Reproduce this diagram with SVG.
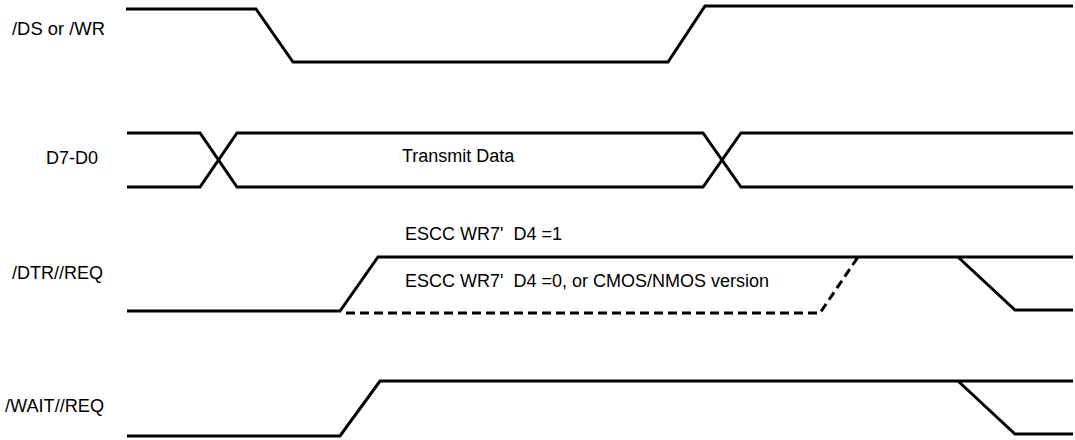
<svg xmlns="http://www.w3.org/2000/svg" width="1075" height="440" viewBox="0 0 1075 440">
<style>
.sig{fill:none;stroke:#000;stroke-width:3;stroke-linejoin:miter}
.dash{fill:none;stroke:#000;stroke-width:3;stroke-dasharray:9,5}
text{font-family:"Liberation Sans",Arial,sans-serif;font-size:18px;fill:#000}
</style>
<rect width="1075" height="440" fill="#fff"/>
<g id="label-ds"><text x="12" y="35" textLength="93" lengthAdjust="spacingAndGlyphs">/DS or /WR</text></g>
<g id="label-d"><text x="46" y="164">D7-D0</text></g>
<g id="label-dtr"><text x="12" y="279">/DTR//REQ</text></g>
<g id="label-wait"><text x="5" y="412" textLength="99" lengthAdjust="spacingAndGlyphs">/WAIT//REQ</text></g>
<g id="notes">
<text x="402" y="162">Transmit Data</text>
<text x="405" y="240" xml:space="preserve">ESCC WR7'  D4 =1</text>
<text x="405" y="287" xml:space="preserve">ESCC WR7'  D4 =0, or CMOS/NMOS version</text>
</g>
<g id="waveforms">
<polyline class="sig" points="126,9 256,9 293,62 668,62 705,6 1073,6"/>
<polyline class="sig" points="127,133 200,133 237,187 703,187 741,133 1073,133"/>
<polyline class="sig" points="127,187 200,187 237,133 703,133 741,187 1073,187"/>
<polyline class="sig" points="127,311 340,311 378,257 1073,257"/>
<polyline class="dash" points="346,313 820,313 858,257"/>
<polyline class="sig" points="958,257 1015,310 1073,310"/>
<polyline class="sig" points="127,436 340,436 380,381 1073,381"/>
<polyline class="sig" points="958,381 1015,434 1073,434"/>
</g>
</svg>
